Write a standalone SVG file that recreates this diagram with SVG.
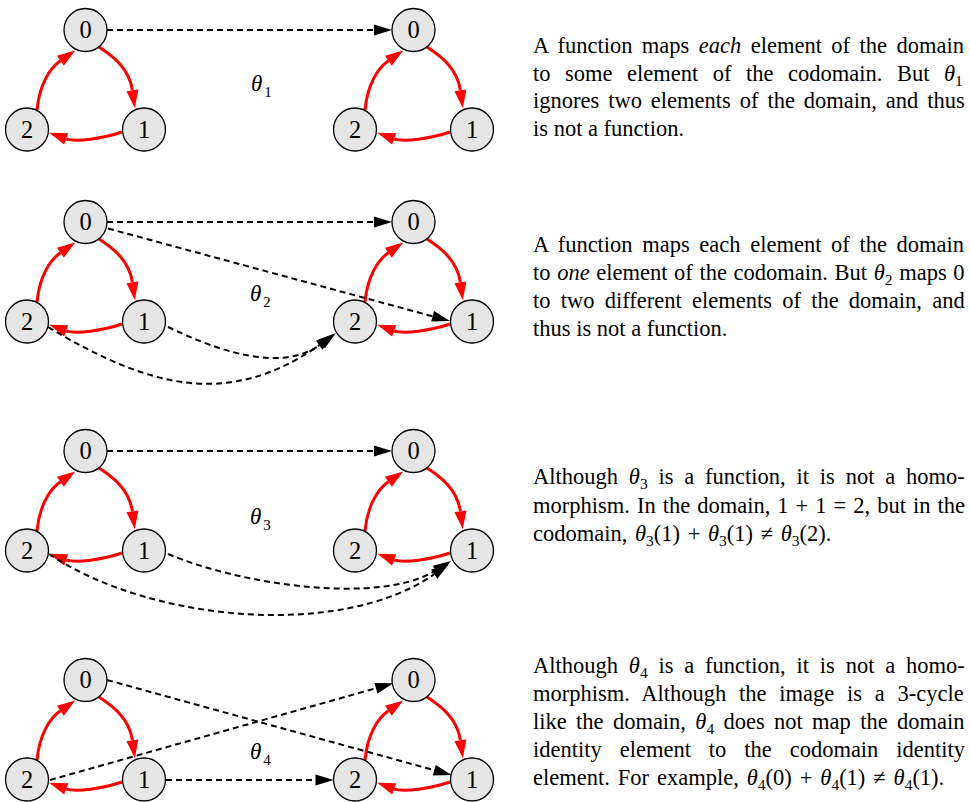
<svg xmlns="http://www.w3.org/2000/svg" width="970" height="802" viewBox="0 0 970 802">
<defs>
<style>
.node circle{fill:#e6e6e6;stroke:#000;stroke-width:1.3}
.node text{font-family:"Liberation Serif","Times New Roman",serif;font-size:24.5px;text-anchor:middle}
.red{fill:none;stroke:#f00;stroke-width:3;marker-end:url(#ra)}
.map{fill:none;stroke:#000;stroke-width:2;stroke-dasharray:6 4;marker-end:url(#ba)}
.lbl{font-family:"Liberation Serif","Times New Roman",serif;font-style:italic;font-size:23px}
.sub{font-style:normal;font-size:15px}
.desc{font-family:"Liberation Serif","Times New Roman",serif;font-size:22.5px}
.it{font-style:italic}
.ds{font-size:15.5px}
</style>
<marker id="ra" markerUnits="userSpaceOnUse" markerWidth="20" markerHeight="14" refX="0" refY="6" orient="auto" overflow="visible"><path d="M0,0 L18,6 L0,12 z" fill="#f00"/></marker>
<marker id="ba" markerUnits="userSpaceOnUse" markerWidth="20" markerHeight="14" refX="0" refY="5.5" orient="auto" overflow="visible"><path d="M0,0 L18,5.5 L0,11 z" fill="#000"/></marker>
<g id="cycle">
<path class="red" d="M37,110 C39.5,84 50,68 60.4,60.8"/>
<path class="red" d="M99,47 C109,54 129,66 132.4,90.4"/>
<path class="red" d="M122,132 C102.9,138.5 75.8,142.3 66.2,138.8"/>
</g>
</defs>

<g id="connectors">
<g id="conn-p1">
<use href="#cycle"/><use href="#cycle" transform="translate(328,0)"/>
<path class="map" d="M107,30 L374,30"/>
</g>
<g id="conn-p2" transform="translate(0,192)">
<use href="#cycle"/><use href="#cycle" transform="translate(328,0)"/>
<path class="map" d="M107,30 L374,30"/>
<path class="map" d="M108,36.5 L432.6,124.3"/>
<path class="map" d="M168,135 C217.5,158.7 281.6,181.8 321.6,151.8"/>
<path class="map" d="M48,135 C150.8,196.7 229,216 319.2,153.3"/>
</g>
<g id="conn-p3" transform="translate(0,421)">
<use href="#cycle"/><use href="#cycle" transform="translate(328,0)"/>
<path class="map" d="M107,30 L374,30"/>
<path class="map" d="M168,133 C241.6,164.2 380.4,184 435.7,149.5"/>
<path class="map" d="M49,133 C148.6,200.2 339.9,218.9 434.2,153.3"/>
</g>
<g id="conn-p4" transform="translate(0,650)">
<use href="#cycle"/><use href="#cycle" transform="translate(328,0)"/>
<path class="map" d="M107,30 L434.3,120.2"/>
<path class="map" d="M50,130 L376,38.2"/>
<path class="map" d="M166,130 L315.5,130"/>
</g>
</g>

<g id="nodes-p1">
<g id="p1-d0" class="node"><circle cx="85.5" cy="30" r="21.5"/><text x="85.5" y="38.3">0</text></g>
<g id="p1-d1" class="node"><circle cx="144" cy="129.5" r="21.5"/><text x="144" y="137.8">1</text></g>
<g id="p1-d2" class="node"><circle cx="27" cy="129.5" r="21.5"/><text x="27" y="137.8">2</text></g>
<g id="p1-c0" class="node"><circle cx="413.5" cy="30" r="21.5"/><text x="413.5" y="38.3">0</text></g>
<g id="p1-c1" class="node"><circle cx="472" cy="129.5" r="21.5"/><text x="472" y="137.8">1</text></g>
<g id="p1-c2" class="node"><circle cx="355" cy="129.5" r="21.5"/><text x="355" y="137.8">2</text></g>
<text class="lbl" x="251" y="91">θ<tspan class="sub" dx="2" dy="6">1</tspan></text>
</g>
<g id="nodes-p2" transform="translate(0,192)">
<g id="p2-d0" class="node"><circle cx="85.5" cy="30" r="21.5"/><text x="85.5" y="38.3">0</text></g>
<g id="p2-d1" class="node"><circle cx="144" cy="129.5" r="21.5"/><text x="144" y="137.8">1</text></g>
<g id="p2-d2" class="node"><circle cx="27" cy="129.5" r="21.5"/><text x="27" y="137.8">2</text></g>
<g id="p2-c0" class="node"><circle cx="413.5" cy="30" r="21.5"/><text x="413.5" y="38.3">0</text></g>
<g id="p2-c1" class="node"><circle cx="472" cy="129.5" r="21.5"/><text x="472" y="137.8">1</text></g>
<g id="p2-c2" class="node"><circle cx="355" cy="129.5" r="21.5"/><text x="355" y="137.8">2</text></g>
<text class="lbl" x="250" y="109">θ<tspan class="sub" dx="2" dy="6">2</tspan></text>
</g>
<g id="nodes-p3" transform="translate(0,421)">
<g id="p3-d0" class="node"><circle cx="85.5" cy="30" r="21.5"/><text x="85.5" y="38.3">0</text></g>
<g id="p3-d1" class="node"><circle cx="144" cy="129.5" r="21.5"/><text x="144" y="137.8">1</text></g>
<g id="p3-d2" class="node"><circle cx="27" cy="129.5" r="21.5"/><text x="27" y="137.8">2</text></g>
<g id="p3-c0" class="node"><circle cx="413.5" cy="30" r="21.5"/><text x="413.5" y="38.3">0</text></g>
<g id="p3-c1" class="node"><circle cx="472" cy="129.5" r="21.5"/><text x="472" y="137.8">1</text></g>
<g id="p3-c2" class="node"><circle cx="355" cy="129.5" r="21.5"/><text x="355" y="137.8">2</text></g>
<text class="lbl" x="250" y="103">θ<tspan class="sub" dx="2" dy="6">3</tspan></text>
</g>
<g id="nodes-p4" transform="translate(0,650)">
<g id="p4-d0" class="node"><circle cx="85.5" cy="30" r="21.5"/><text x="85.5" y="38.3">0</text></g>
<g id="p4-d1" class="node"><circle cx="144" cy="129.5" r="21.5"/><text x="144" y="137.8">1</text></g>
<g id="p4-d2" class="node"><circle cx="27" cy="129.5" r="21.5"/><text x="27" y="137.8">2</text></g>
<g id="p4-c0" class="node"><circle cx="413.5" cy="30" r="21.5"/><text x="413.5" y="38.3">0</text></g>
<g id="p4-c1" class="node"><circle cx="472" cy="129.5" r="21.5"/><text x="472" y="137.8">1</text></g>
<g id="p4-c2" class="node"><circle cx="355" cy="129.5" r="21.5"/><text x="355" y="137.8">2</text></g>
<text class="lbl" x="250" y="109">θ<tspan class="sub" dx="2" dy="6">4</tspan></text>
</g>

<g id="text-p1" class="desc">
<text x="533" y="53" word-spacing="3.8">A function maps <tspan class="it">each</tspan> element of the domain</text>
<text x="533" y="80.5" word-spacing="8.9">to some element of the codomain. But <tspan class="it">θ</tspan><tspan class="ds" dy="5">1</tspan></text>
<text x="533" y="108" word-spacing="3.3">ignores two elements of the domain, and thus</text>
<text x="533" y="135.5">is not a function.</text>
</g>
<g id="text-p2" class="desc">
<text x="533" y="252" word-spacing="4">A function maps each element of the domain</text>
<text x="533" y="280" word-spacing="1">to <tspan class="it">one</tspan> element of the codomain. But <tspan class="it">θ</tspan><tspan class="ds" dy="5">2</tspan><tspan dy="-5"> maps 0</tspan></text>
<text x="533" y="308" word-spacing="4.6">to two different elements of the domain, and</text>
<text x="533" y="336">thus is not a function.</text>
</g>
<g id="text-p3" class="desc">
<text x="533" y="484" word-spacing="5.2">Although <tspan class="it">θ</tspan><tspan class="ds" dy="5">3</tspan><tspan dy="-5"> is a function, it is not a homo-</tspan></text>
<text x="533" y="512.5" word-spacing="1.4">morphism. In the domain, 1 + 1 = 2, but in the</text>
<text x="533" y="541" word-spacing="2">codomain, <tspan class="it">θ</tspan><tspan class="ds" dy="5">3</tspan><tspan dy="-5">(1) + </tspan><tspan class="it">θ</tspan><tspan class="ds" dy="5">3</tspan><tspan dy="-5">(1) ≠ </tspan><tspan class="it">θ</tspan><tspan class="ds" dy="5">3</tspan><tspan dy="-5">(2).</tspan></text>
</g>
<g id="text-p4" class="desc">
<text x="533" y="673" word-spacing="5.2">Although <tspan class="it">θ</tspan><tspan class="ds" dy="5">4</tspan><tspan dy="-5"> is a function, it is not a homo-</tspan></text>
<text x="533" y="701" word-spacing="7.1">morphism. Although the image is a 3-cycle</text>
<text x="533" y="729" word-spacing="3.7">like the domain, <tspan class="it">θ</tspan><tspan class="ds" dy="5">4</tspan><tspan dy="-5"> does not map the domain</tspan></text>
<text x="533" y="757" word-spacing="12.3">identity element to the codomain identity</text>
<text x="533" y="785" word-spacing="2.3">element. For example, <tspan class="it">θ</tspan><tspan class="ds" dy="5">4</tspan><tspan dy="-5">(0) + </tspan><tspan class="it">θ</tspan><tspan class="ds" dy="5">4</tspan><tspan dy="-5">(1) ≠ </tspan><tspan class="it">θ</tspan><tspan class="ds" dy="5">4</tspan><tspan dy="-5">(1).</tspan></text>
</g>
</svg>
